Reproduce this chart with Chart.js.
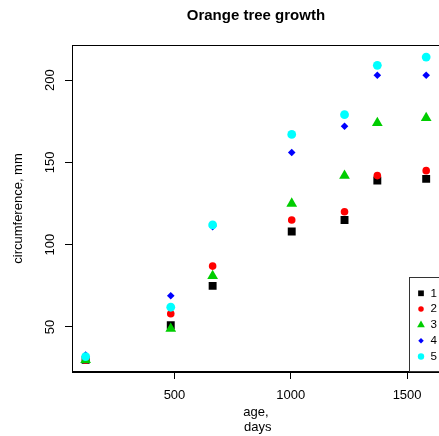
<!DOCTYPE html>
<html><head><meta charset="utf-8">
<script src="https://cdn.jsdelivr.net/npm/chart.js@4/dist/chart.umd.min.js"></script>
<style>
html,body{margin:0;padding:0;overflow:hidden;background:#fff;width:439px;height:436px}
#wrap{width:446px;height:436px}
canvas{display:block}
</style></head>
<body><div id="wrap"><canvas id="c" width="446" height="436"></canvas></div>
<script>
const ages = [118, 484, 664, 1004, 1231, 1372, 1582];
const tree1 = [30, 51, 75, 108, 115, 139, 140];
const tree2 = [30, 58, 87, 115, 120, 142, 145];
const tree3 = [30, 49, 81, 125, 142, 174, 177];
const tree4 = [33, 69, 111, 156, 172, 203, 203];
const tree5 = [32, 62, 112, 167, 179, 209, 214];
const seriesNames = ['1', '2', '3', '4', '5'];
const xTicks = [500, 1000, 1500];
const yTicks = [50, 100, 150, 200];
const titleText = 'Orange tree growth';
const xTitle = ['age,', ' days'];
const yTitle = 'circumference, mm';

const FONT = '"Liberation Sans", Arial, Helvetica, sans-serif';
const seriesValues = [tree1, tree2, tree3, tree4, tree5];
const styles = [
  {color: '#000000', pointStyle: 'rect', radius: 5.6},
  {color: '#FF0000', pointStyle: 'circle', radius: 3.8},
  {color: '#00CD00', pointStyle: 'triangle', radius: 6.2},
  {color: '#0000FF', pointStyle: 'rectRot', radius: 3.8},
  {color: '#00FFFF', pointStyle: 'circle', radius: 4.4}
];

const datasets = seriesValues.map((vals, i) => ({
  label: seriesNames[i],
  data: ages.map((a, j) => ({x: a, y: vals[j]})),
  pointStyle: styles[i].pointStyle,
  pointRadius: styles[i].radius,
  pointHoverRadius: styles[i].radius,
  backgroundColor: styles[i].color,
  borderColor: styles[i].color,
  borderWidth: 0,
  showLine: false,
  order: seriesValues.length - i
}));

function drawSym(ctx, style, x, y, r) {
  ctx.beginPath();
  if (style === 'rect') {
    const s = Math.SQRT1_2 * r;
    ctx.rect(x - s, y - s, 2 * s, 2 * s);
  } else if (style === 'circle') {
    ctx.arc(x, y, r, 0, Math.PI * 2);
  } else if (style === 'triangle') {
    ctx.moveTo(x, y - r);
    ctx.lineTo(x + Math.sin(2 * Math.PI / 3) * r, y + r / 2);
    ctx.lineTo(x - Math.sin(2 * Math.PI / 3) * r, y + r / 2);
    ctx.closePath();
  } else if (style === 'rectRot') {
    ctx.moveTo(x, y - r); ctx.lineTo(x + r, y); ctx.lineTo(x, y + r); ctx.lineTo(x - r, y); ctx.closePath();
  }
  ctx.fill();
}

const deco = {
  id: 'deco',
  afterDraw(chart) {
    const {ctx, chartArea: a} = chart;
    ctx.save();
    ctx.strokeStyle = '#000';
    ctx.lineWidth = 1;
    ctx.strokeRect(Math.round(a.left) + 0.5, Math.round(a.top) + 0.5,
      Math.round(a.right - a.left), Math.round(a.bottom - a.top) - 1);
    // title
    ctx.fillStyle = '#000';
    ctx.font = 'bold 15px ' + FONT;
    ctx.textAlign = 'center';
    ctx.textBaseline = 'alphabetic';
    ctx.fillText(titleText, (a.left + a.right) / 2, 19.5);
    // legend
    const bx = 409.5, by = 277.5;
    ctx.fillStyle = '#fff';
    ctx.fillRect(bx, by, a.right - bx + 10, a.bottom - by);
    ctx.strokeStyle = '#333';
    ctx.strokeRect(bx, by, a.right - bx + 10, Math.round(a.bottom) - 0.5 - by);
    ctx.font = '11.6px ' + FONT;
    ctx.textAlign = 'left';
    ctx.textBaseline = 'middle';
    for (let i = 0; i < seriesNames.length; i++) {
      const yy = 293.3 + i * 15.8;
      ctx.fillStyle = styles[i].color;
      drawSym(ctx, styles[i].pointStyle, 421, yy, styles[i].radius * 0.72);
      ctx.fillStyle = '#000';
      ctx.fillText(seriesNames[i], 430.5, yy);
    }
    ctx.restore();
  }
};

new Chart(document.getElementById('c'), {
  type: 'scatter',
  data: {datasets},
  options: {
    responsive: false,
    animation: false,
    devicePixelRatio: 1,
    layout: {padding: {top: 45, left: 0, right: 0, bottom: 0}},
    plugins: {legend: {display: false}, tooltip: {enabled: false}, title: {display: false}},
    scales: {
      x: {
        type: 'linear',
        min: 59.44, max: 1640.56,
        afterBuildTicks: s => { s.ticks = xTicks.map(v => ({value: v})); },
        afterFit: s => { s.height = 64; },
        grid: {drawOnChartArea: false, drawTicks: true, tickLength: 7, color: '#000', tickColor: '#000'},
        border: {display: true, color: '#000'},
        ticks: {color: '#000', padding: 9, maxRotation: 0, autoSkip: false,
          font: {family: FONT, size: 13}, callback: v => String(v)},
        title: {display: true, text: xTitle, color: '#000',
          font: {family: FONT, size: 13, lineHeight: 1.15}, padding: {top: 0, bottom: 1.5}}
      },
      y: {
        type: 'linear',
        min: 22.64, max: 221.36,
        afterBuildTicks: s => { s.ticks = yTicks.map(v => ({value: v})); },
        afterFit: s => { s.width = 72; },
        grid: {drawOnChartArea: false, drawTicks: true, tickLength: 7, color: '#000', tickColor: '#000'},
        border: {display: true, color: '#000'},
        ticks: {color: '#000', padding: 4, minRotation: 90, maxRotation: 90, crossAlign: 'center',
          autoSkip: false, font: {family: FONT, size: 13}, callback: v => String(v)},
        title: {display: true, text: yTitle, color: '#000',
          font: {family: FONT, size: 13, lineHeight: 1.15}, padding: {top: 11, bottom: 0}}
      }
    }
  },
  plugins: [deco]
});
</script>
</body></html>
